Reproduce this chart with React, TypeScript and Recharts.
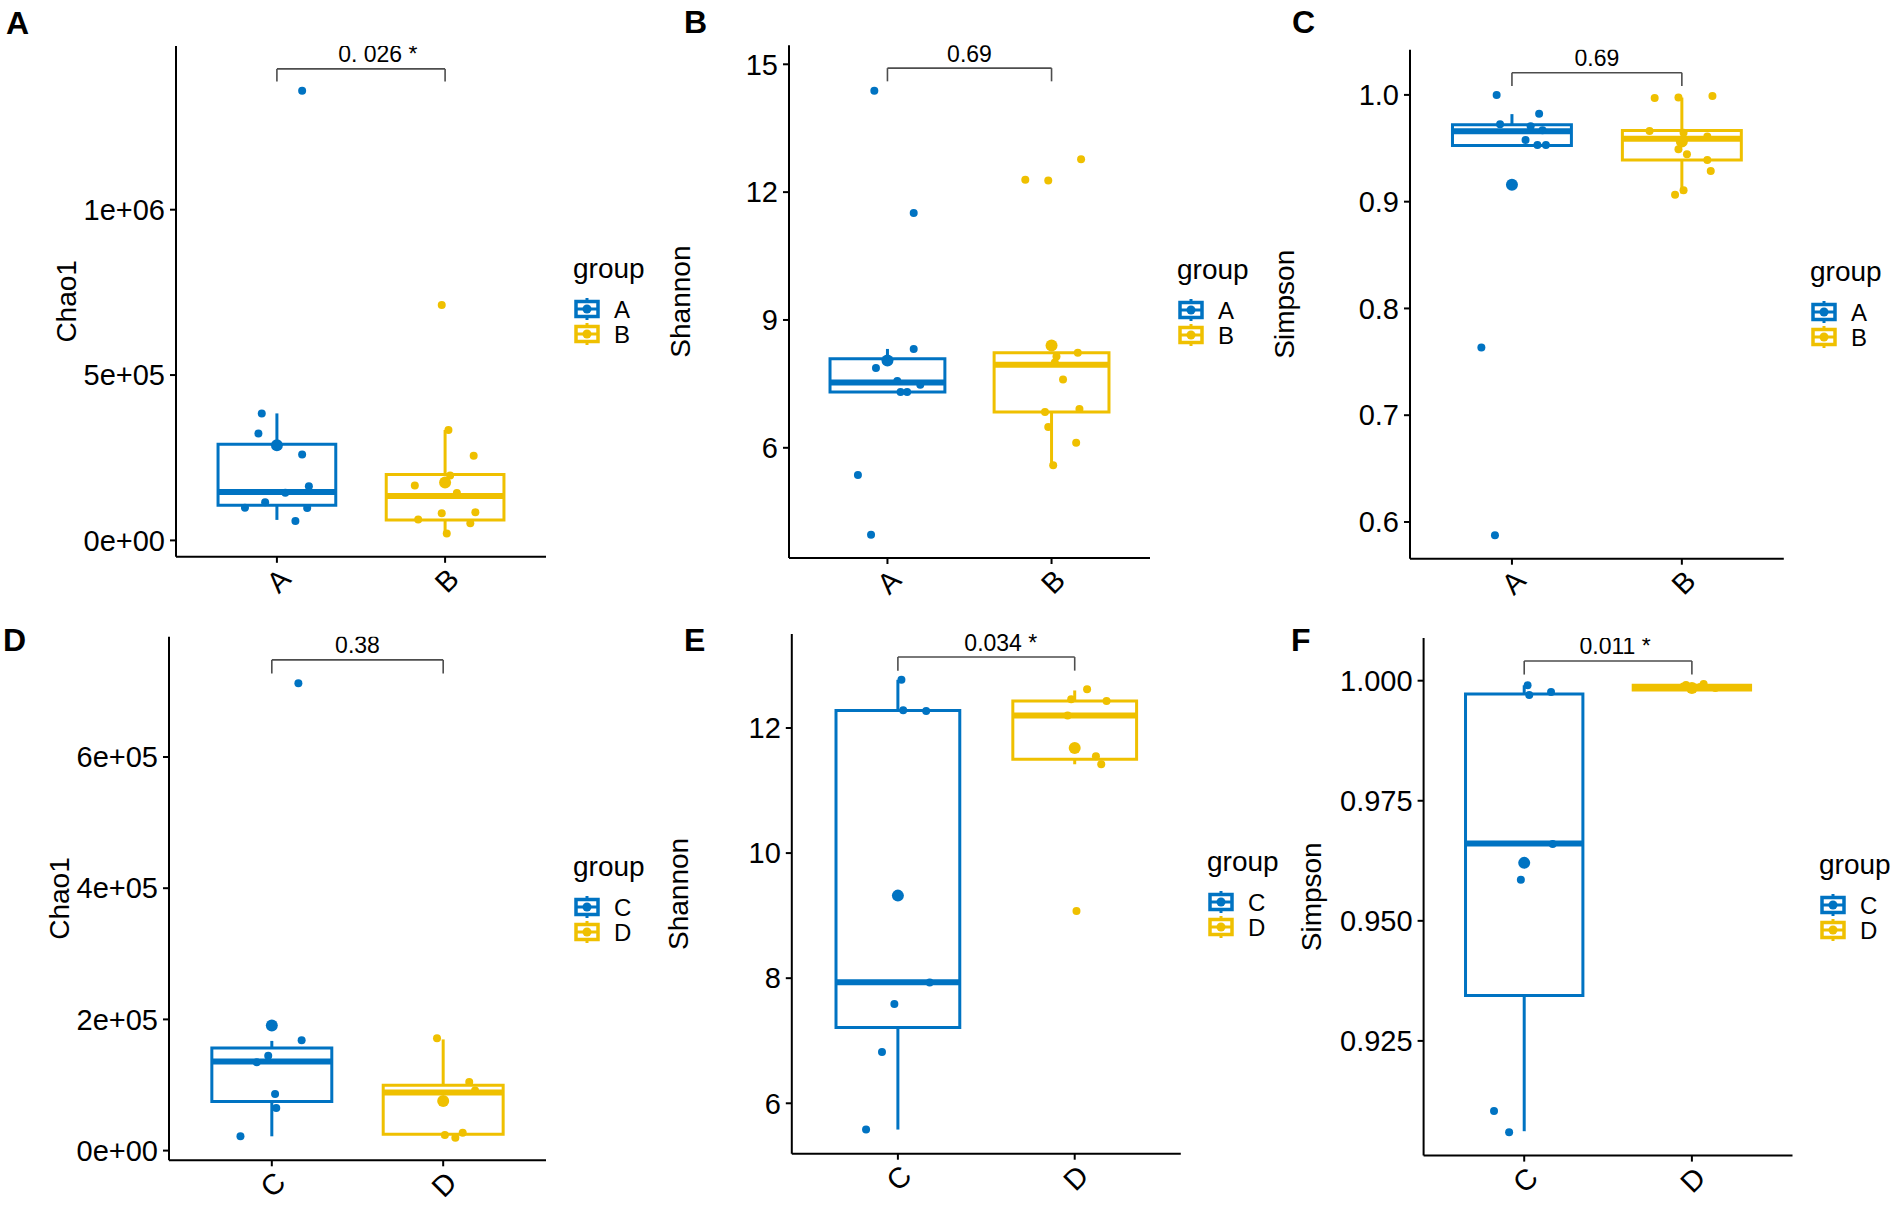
import React from "react";
import { ComposedChart, XAxis, YAxis, Scatter, ReferenceArea, ReferenceLine, Legend } from "recharts";

const FONT = '"Liberation Sans", Arial, Helvetica, sans-serif';
const COLORS = ["#0073C2", "#EFC000"];

// ---------- data ----------
const groupsTop = ["A", "B"];
const groupsBottom = ["C", "D"];

// box stats are [lower whisker, Q1, median, Q3, upper whisker]
// A: Chao1, groups A/B
const chaoA = [1360000, 384000, 323000, 260000, 164000, 144000, 115000, 99000, 98000, 59000];
const chaoAJit = [0.15, -0.09, -0.11, 0.15, 0.19, 0.05, -0.07, -0.19, 0.18, 0.11];
const chaoB = [712000, 334000, 256000, 196000, 166000, 143000, 82000, 85000, 63000, 52000, 21000];
const chaoBJit = [-0.02, 0.02, 0.17, 0.03, -0.18, 0.07, -0.02, 0.18, -0.16, 0.15, 0.01];
const chaoABBoxes = [[62000, 106000, 146000, 291000, 384000], [21000, 62000, 134000, 199000, 334000]];
const chaoABMeans = [288000, 175000];
const chaoABTicks = [0, 500000, 1000000];
const chaoABTickLabels = ["0e+00", "5e+05", "1e+06"];
const chaoABDomain = [-49600, 1495300];
const chaoABBracket = [1425700, 1387700];

// B: Shannon, groups A/B
const shanA = [14.38, 11.51, 8.32, 7.87, 7.57, 7.48, 7.31, 7.31, 5.36, 3.96];
const shanAJit = [-0.08, 0.16, 0.16, -0.07, 0.06, 0.2, 0.08, 0.12, -0.18, -0.1];
const shanB = [12.77, 12.29, 12.27, 8.23, 8.14, 8.0, 7.6, 6.91, 6.84, 6.49, 6.12, 5.59];
const shanBJit = [0.18, -0.16, -0.02, 0.16, 0.03, 0.02, 0.07, 0.17, -0.04, -0.02, 0.15, 0.01];
const shanABBoxes = [[7.31, 7.31, 7.53, 8.09, 8.32], [5.59, 6.84, 7.95, 8.23, 8.23]];
const shanABMeans = [8.05, 8.4];
const shanABTicks = [6, 9, 12, 15];
const shanABTickLabels = ["6", "9", "12", "15"];
const shanABDomain = [3.414, 15.448];
const shanABBracket = [14.91, 14.6];

// C: Simpson, groups A/B
const simA = [1.0, 0.9824, 0.9724, 0.9706, 0.967, 0.9577, 0.953, 0.953, 0.7635, 0.5876];
const simAJit = [-0.09, 0.16, -0.07, 0.11, 0.18, 0.08, 0.15, 0.2, -0.18, -0.1];
const simB = [0.997, 0.9975, 0.999, 0.9663, 0.9645, 0.961, 0.955, 0.949, 0.9444, 0.939, 0.9287, 0.9107, 0.9064];
const simBJit = [-0.16, -0.02, 0.18, -0.19, 0.01, 0.15, 0.0, -0.02, 0.03, 0.15, 0.17, 0.01, -0.04];
const simABBoxes = [[0.9527, 0.9527, 0.966, 0.972, 0.982], [0.9077, 0.939, 0.959, 0.9666, 0.9975]];
const simABMeans = [0.9158, 0.9563];
const simABTicks = [0.6, 0.7, 0.8, 0.9, 1.0];
const simABTickLabels = ["0.6", "0.7", "0.8", "0.9", "1.0"];
const simABDomain = [0.5656, 1.04224];
const simABBracket = [1.0207, 1.0083];

// D: Chao1, groups C/D
const chaoC = [712500, 168200, 144600, 134600, 86200, 65000, 21800];
const chaoCJit = [0.155, 0.174, -0.021, -0.088, 0.019, 0.026, -0.183];
const chaoD = [171200, 104600, 91500, 27200, 23600, 19500];
const chaoDJit = [-0.036, 0.152, 0.186, 0.114, 0.01, 0.071];
const chaoCDBoxes = [[21800, 74900, 135800, 156500, 167200], [19500, 24900, 88500, 99800, 169500]];
const chaoCDMeans = [190600, 75600];
const chaoCDTicks = [0, 200000, 400000, 600000];
const chaoCDTickLabels = ["0e+00", "2e+05", "4e+05", "6e+05"];
const chaoCDDomain = [-14787, 783230];
const chaoCDBracket = [748000, 727300];

// E: Shannon, groups C/D
const shanC = [12.77, 12.285, 12.27, 7.93, 7.587, 6.82, 5.58];
const shanCJit = [0.02, 0.03, 0.16, 0.18, -0.02, -0.09, -0.18];
const shanD = [12.62, 12.46, 12.43, 12.2, 11.55, 11.42, 9.075];
const shanDJit = [0.07, -0.02, 0.18, -0.04, 0.12, 0.15, 0.01];
const shanCDBoxes = [[5.58, 7.21, 7.935, 12.28, 12.77], [11.42, 11.5, 12.2, 12.43, 12.6]];
const shanCDMeans = [9.32, 11.68];
const shanCDTicks = [6, 8, 10, 12];
const shanCDTickLabels = ["6", "8", "10", "12"];
const shanCDDomain = [5.194, 13.501];
const shanCDBracket = [13.134, 12.917];

// F: Simpson, groups C/D
const simC = [0.99903, 0.99701, 0.99767, 0.966, 0.95858, 0.9104, 0.906];
const simCJit = [0.02, 0.03, 0.16, 0.17, -0.02, -0.18, -0.09];
const simD = [0.9991, 0.9986, 0.9993, 0.9985, 0.9987, 0.9988];
const simDJit = [-0.035, 0.0, 0.07, 0.14, 0.05, -0.05];
const simCDBoxes = [[0.9062, 0.93446, 0.9661, 0.99725, 0.99903], [0.9983, 0.99806, 0.9985, 0.99903, 0.9992]];
const simCDMeans = [0.96207, 0.9985];
const simCDTicks = [0.925, 0.95, 0.975, 1.0];
const simCDTickLabels = ["0.925", "0.950", "0.975", "1.000"];
const simCDDomain = [0.90112, 1.00889];
const simCDBracket = [1.00411, 1.00128];

// ---------- layout (page pixels) ----------
// tile: [left, top, width, height]; plot: [x0, x1, y0, y1]; letter: [x, baseline]
const layouts: Record<string, any> = {
  A: { tile: [0, 0, 640, 600], plot: [176, 546, 45.9, 556.8], letter: [6, 34], titleGap: 100.5, labelShift: 0.1 },
  B: { tile: [640, 0, 640, 600], plot: [789, 1150, 45.2, 558], letter: [684, 33], titleGap: 99.2, labelShift: 0 },
  C: { tile: [1280, 0, 622, 600], plot: [1410, 1783.8, 49.8, 558.7], letter: [1292, 33], titleGap: 116, labelShift: 0 },
  D: { tile: [0, 600, 640, 608], plot: [169, 546, 636.8, 1160.3], letter: [3, 651], titleGap: 100.4, labelShift: 0 },
  E: { tile: [640, 600, 640, 608], plot: [791.8, 1180.8, 634.1, 1153.7], letter: [684, 651], titleGap: 103.6, labelShift: 0.082 },
  F: { tile: [1280, 600, 622, 608], plot: [1423.6, 1792.5, 638, 1155.6], letter: [1291, 650.5], titleGap: 102.6, labelShift: 0.042 },
};

const panels = [
  { id: "A", yTitle: "Chao1", names: groupsTop, domain: chaoABDomain, ticks: chaoABTicks, tickLabels: chaoABTickLabels,
    series: [[chaoA, chaoAJit], [chaoB, chaoBJit]], boxes: chaoABBoxes, means: chaoABMeans, bracket: chaoABBracket, pLabel: "0. 026 *" },
  { id: "B", yTitle: "Shannon", names: groupsTop, domain: shanABDomain, ticks: shanABTicks, tickLabels: shanABTickLabels,
    series: [[shanA, shanAJit], [shanB, shanBJit]], boxes: shanABBoxes, means: shanABMeans, bracket: shanABBracket, pLabel: "0.69" },
  { id: "C", yTitle: "Simpson", names: groupsTop, domain: simABDomain, ticks: simABTicks, tickLabels: simABTickLabels,
    series: [[simA, simAJit], [simB, simBJit]], boxes: simABBoxes, means: simABMeans, bracket: simABBracket, pLabel: "0.69" },
  { id: "D", yTitle: "Chao1", names: groupsBottom, domain: chaoCDDomain, ticks: chaoCDTicks, tickLabels: chaoCDTickLabels,
    series: [[chaoC, chaoCJit], [chaoD, chaoDJit]], boxes: chaoCDBoxes, means: chaoCDMeans, bracket: chaoCDBracket, pLabel: "0.38" },
  { id: "E", yTitle: "Shannon", names: groupsBottom, domain: shanCDDomain, ticks: shanCDTicks, tickLabels: shanCDTickLabels,
    series: [[shanC, shanCJit], [shanD, shanDJit]], boxes: shanCDBoxes, means: shanCDMeans, bracket: shanCDBracket, pLabel: "0.034 *" },
  { id: "F", yTitle: "Simpson", names: groupsBottom, domain: simCDDomain, ticks: simCDTicks, tickLabels: simCDTickLabels,
    series: [[simC, simCJit], [simD, simDJit]], boxes: simCDBoxes, means: simCDMeans, bracket: simCDBracket, pLabel: "0.011 *" },
];

const YW = 110;
const XH = 40;

function XTick(props: any) {
  const { x, y, payload, names } = props;
  const ax = x + 15.5;
  const ay = y + 18;
  return (
    <text x={ax} y={ay} transform={`rotate(-45, ${ax}, ${ay})`} textAnchor="end" fontSize={29} fontFamily={FONT} fill="#000">
      {names[Math.round(payload.value) - 1]}
    </text>
  );
}

function LegendBox({ names }: { names: string[] }) {
  return (
    <svg width={90} height={95} style={{ display: "block", overflow: "visible" }}>
      <text x={1} y={25} fontSize={28} fontFamily={FONT} fill="#000">group</text>
      {names.map((n, i) => {
        const cy = 56 + i * 25;
        const c = COLORS[i];
        return (
          <g key={n}>
            <line x1={15} x2={15} y1={cy - 11} y2={cy + 11} stroke={c} strokeWidth={3} />
            <rect x={4} y={cy - 7.5} width={22} height={15} fill="#fff" stroke={c} strokeWidth={3.5} />
            <line x1={4} x2={26} y1={cy} y2={cy} stroke={c} strokeWidth={3} />
            <circle cx={15} cy={cy} r={4.5} fill={c} />
            <text x={42} y={cy + 8.5} fontSize={24} fontFamily={FONT} fill="#000">{n}</text>
          </g>
        );
      })}
    </svg>
  );
}

function Panel({ p }: { p: any }) {
  const L = layouts[p.id];
  const [tl, tt, tw, th] = L.tile;
  const [x0, x1, y0, y1] = L.plot;
  const margin = { top: y0 - tt, right: tl + tw - x1, bottom: tt + th - y1 - XH, left: x0 - tl - YW };
  const midY = (y0 + y1) / 2 - tt;
  const axisStyle = { stroke: "#000", strokeWidth: 2 };
  const [bY, bTip] = p.bracket;
  return (
    <div style={{ position: "absolute", left: tl, top: tt }}>
      <ComposedChart width={tw} height={th} margin={margin}>
        <XAxis
          type="number"
          dataKey="x"
          domain={[0.4, 2.6]}
          ticks={[1, 2]}
          allowDataOverflow
          interval={0}
          height={XH}
          tickSize={6}
          tickMargin={0}
          axisLine={axisStyle}
          tickLine={axisStyle}
          tick={(t: any) => <XTick {...t} names={p.names} />}
        />
        <YAxis
          type="number"
          dataKey="y"
          domain={p.domain}
          ticks={p.ticks}
          allowDataOverflow
          interval={0}
          width={YW}
          tickSize={6}
          tickMargin={5}
          axisLine={axisStyle}
          tickLine={axisStyle}
          tick={{ fill: "#000", fontSize: 29, fontFamily: FONT }}
          tickFormatter={(v: number) => p.tickLabels[p.ticks.indexOf(v)]}
        />
        {p.boxes.map((b: number[], i: number) => {
          const c = COLORS[i];
          const cx = i + 1;
          return [
            <ReferenceLine key={`wl${i}`} segment={[{ x: cx, y: b[0] }, { x: cx, y: b[1] }]} stroke={c} strokeWidth={3} ifOverflow="visible" />,
            <ReferenceLine key={`wh${i}`} segment={[{ x: cx, y: b[3] }, { x: cx, y: b[4] }]} stroke={c} strokeWidth={3} ifOverflow="visible" />,
            <ReferenceArea key={`bx${i}`} x1={cx - 0.35} x2={cx + 0.35} y1={b[1]} y2={b[3]} fill="#fff" fillOpacity={0} stroke={c} strokeWidth={3} strokeOpacity={1} ifOverflow="visible" />,
            <ReferenceLine key={`md${i}`} segment={[{ x: cx - 0.35, y: b[2] }, { x: cx + 0.35, y: b[2] }]} stroke={c} strokeWidth={6} ifOverflow="visible" />,
          ];
        })}
        <ReferenceLine segment={[{ x: 1, y: bY }, { x: 2, y: bY }]} stroke="#4d4d4d" strokeWidth={1.6} ifOverflow="visible" />
        <ReferenceLine segment={[{ x: 1, y: bY }, { x: 1, y: bTip }]} stroke="#4d4d4d" strokeWidth={1.6} ifOverflow="visible" />
        <ReferenceLine segment={[{ x: 2, y: bY }, { x: 2, y: bTip }]} stroke="#4d4d4d" strokeWidth={1.6} ifOverflow="visible" />
        {p.series.map((s: number[][], i: number) => (
          <Scatter
            key={`pts${i}`}
            data={s[0].map((v, k) => ({ x: i + 1 + s[1][k], y: v }))}
            isAnimationActive={false}
            shape={(sp: any) => <circle cx={sp.cx} cy={sp.cy} r={4} fill={COLORS[i]} />}
          />
        ))}
        {p.means.map((m: number, i: number) => (
          <Scatter
            key={`mean${i}`}
            data={[{ x: i + 1, y: m }]}
            isAnimationActive={false}
            shape={(sp: any) => <circle cx={sp.cx} cy={sp.cy} r={6} fill={COLORS[i]} />}
          />
        ))}
        <Scatter
          data={[{ x: 1.5 + L.labelShift, y: bY }]}
          isAnimationActive={false}
          shape={(sp: any) => (
            <text x={sp.cx} y={sp.cy - 6.5} textAnchor="middle" fontSize={23} fontFamily={FONT} fill="#000">
              {p.pLabel}
            </text>
          )}
        />
        <Legend
          layout="vertical"
          align="center"
          verticalAlign="middle"
          wrapperStyle={{ left: x1 + 25.5 - tl, top: midY - 48, width: 90, height: 95 }}
          content={() => <LegendBox names={p.names} />}
        />
      </ComposedChart>
    </div>
  );
}

export default function App() {
  return (
    <div style={{ position: "absolute", left: 0, top: 0, width: 1902, height: 1208, background: "#fff", fontFamily: FONT }}>
      {panels.map((p) => (
        <Panel key={p.id} p={p} />
      ))}
      <svg width={1902} height={1208} style={{ position: "absolute", left: 0, top: 0, pointerEvents: "none" }}>
        {panels.map((p) => {
          const L = layouts[p.id];
          const [x0, , y0, y1] = L.plot;
          const bx = x0 - L.titleGap;
          const cy = (y0 + y1) / 2;
          return (
            <g key={p.id}>
              <text x={L.letter[0]} y={L.letter[1]} fontSize={32} fontWeight="bold" fontFamily={FONT} fill="#000">
                {p.id}
              </text>
              <text transform={`translate(${bx}, ${cy}) rotate(-90)`} textAnchor="middle" fontSize={28} fontFamily={FONT} fill="#000">
                {p.yTitle}
              </text>
            </g>
          );
        })}
      </svg>
    </div>
  );
}
